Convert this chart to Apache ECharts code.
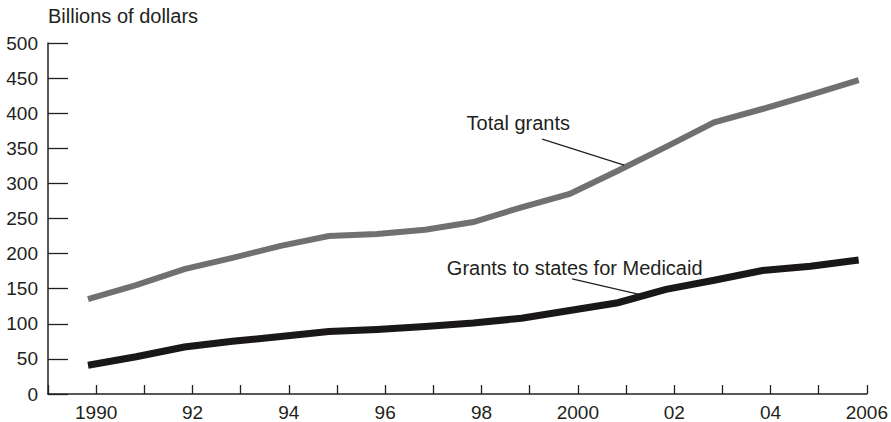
<!DOCTYPE html>
<html>
<head>
<meta charset="utf-8">
<script src="https://cdn.jsdelivr.net/npm/echarts@6/dist/echarts.min.js"></script>
<style>
html,body{margin:0;padding:0;background:#fff;}
#c{width:891px;height:422px;}
</style>
</head>
<body>
<div id="c"></div>
<script>
const years = [1990,1991,1992,1993,1994,1995,1996,1997,1998,1999,2000,2001,2002,2003,2004,2005,2006];
const totalGrants = [135,155,178,194,211,225,228,234,245,266,285,318,352,387,406,426,447];
const medicaid = [41,53,67,75,82,89,92,96,101,108,119,130,149,162,176,182,191];
const yTicks = [0,50,100,150,200,250,300,350,400,450,500];
const xLabels = {1990:'1990',1992:'92',1994:'94',1996:'96',1998:'98',2000:'2000',2002:'02',2004:'04',2006:'2006'};
const yTitle = 'Billions of dollars';
const totalLabel = 'Total grants';
const medLabel = 'Grants to states for Medicaid';

const FONT = '"Liberation Sans", Arial, sans-serif';
const TXT = '#231f20';
const OFFSET = -0.17; // data plotted slightly before each year tick, as in the source

const chart = echarts.init(document.getElementById('c'), null, {renderer:'svg'});
const toPts = arr => years.map((y,i)=>[y+OFFSET, arr[i]]);
const noteLabel = (text) => ({show:true,position:'right',distance:0,formatter:text,
  fontFamily:FONT,fontSize:20,color:TXT});

chart.setOption({
  animation:false,
  backgroundColor:'#fff',
  grid:{left:48,right:23,top:43,bottom:28,containLabel:false},
  xAxis:{
    type:'value',min:1989,max:2006,interval:1,
    axisLine:{show:true,onZero:false,lineStyle:{color:'#231f20',width:1.5}},
    axisTick:{show:true,inside:true,length:9,lineStyle:{color:'#231f20',width:1.3}},
    axisLabel:{margin:9,fontFamily:FONT,fontSize:19,color:TXT,
      formatter:v=>xLabels[Math.round(v)]||''},
    splitLine:{show:false}
  },
  yAxis:{
    type:'value',min:yTicks[0],max:yTicks[yTicks.length-1],interval:50,
    axisLine:{show:true,lineStyle:{color:'#231f20',width:1.5}},
    axisTick:{show:true,inside:true,length:20,lineStyle:{color:'#231f20',width:1.3}},
    axisLabel:{margin:10,fontFamily:FONT,fontSize:19,color:TXT},
    splitLine:{show:false}
  },
  graphic:[{type:'text',left:48,top:6,style:{text:yTitle,font:'20px '+FONT,fill:TXT}}],
  series:[
    {type:'line',name:totalLabel,data:toPts(totalGrants),symbol:'none',
      lineStyle:{color:'#707070',width:6,cap:'butt',join:'miter'},z:3,
      markLine:{silent:true,symbol:'none',label:{show:false},
        lineStyle:{color:'#231f20',width:1.2,type:'solid'},
        data:[[{coord:[1999.26,363]},{coord:[2000.96,326]}]]},
      markPoint:{silent:true,symbol:'circle',symbolSize:1,itemStyle:{color:'rgba(0,0,0,0)'},
        data:[{coord:[1997.68,386],label:noteLabel(totalLabel)}]}
    },
    {type:'line',name:medLabel,data:toPts(medicaid),symbol:'none',
      lineStyle:{color:'#1a1718',width:7,cap:'butt',join:'miter'},z:4,
      markLine:{silent:true,symbol:'none',label:{show:false},
        lineStyle:{color:'#231f20',width:1.2,type:'solid'},
        data:[[{coord:[1999.88,164]},{coord:[2001.27,142]}]]},
      markPoint:{silent:true,symbol:'circle',symbolSize:1,itemStyle:{color:'rgba(0,0,0,0)'},
        data:[{coord:[1997.27,179],label:noteLabel(medLabel)}]}
    }
  ]
});
</script>
</body>
</html>
